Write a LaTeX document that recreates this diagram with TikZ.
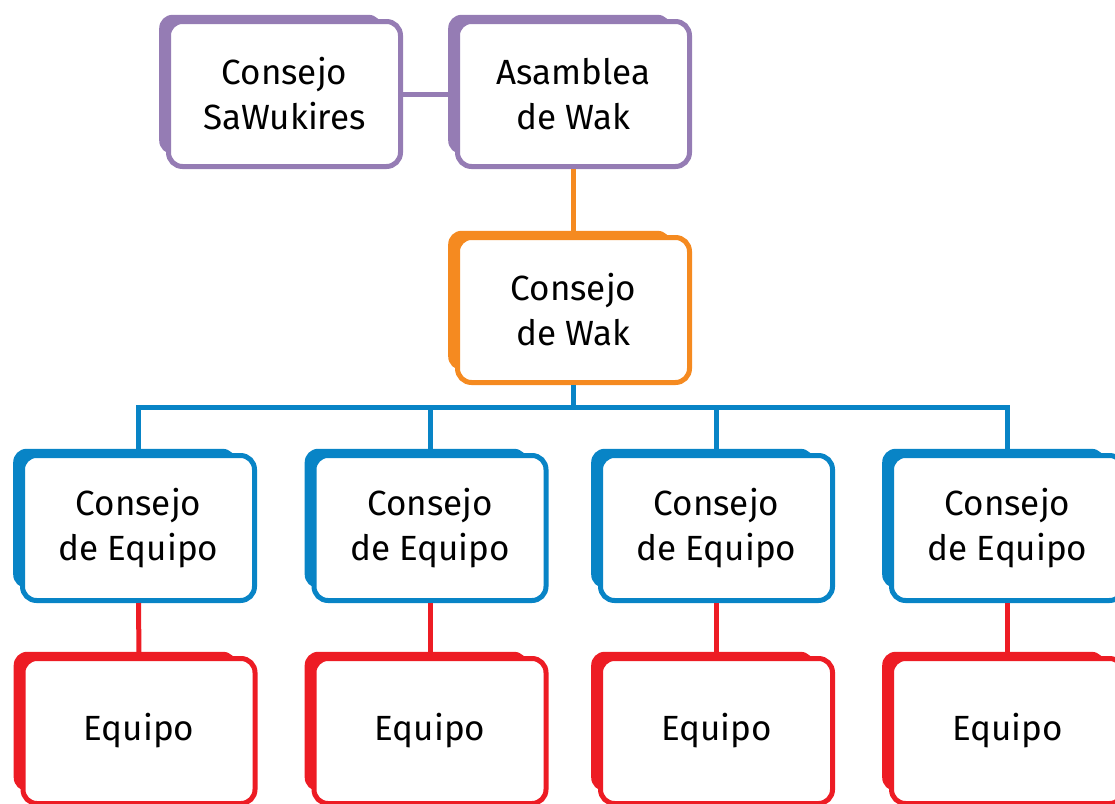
\documentclass[tikz,border=0pt]{standalone}
\usepackage{fontspec}
\setmainfont{Fira Sans}
\usetikzlibrary{shadows}
\definecolor{lila}{RGB}{149,124,180}
\definecolor{naranja}{RGB}{245,138,32}
\definecolor{azul}{RGB}{8,132,198}
\definecolor{rojo}{RGB}{237,28,36}
\tikzset{
    caja/.style={draw=#1, fill=white, line width=5pt, rounded corners=14pt,
        minimum width=232pt, minimum height=145pt, align=center,
        font=\fontsize{35}{45}\selectfont,
        general shadow={fill=#1, shadow xshift=-14.5pt, shadow yshift=10pt,
            shadow scale=0.96}},
    enlace/.style={draw=#1, line width=5pt}
}
\begin{document}
\begin{tikzpicture}[x=1pt,y=1pt]
    \useasboundingbox (0,0) rectangle (1115,-803);
    \node[caja=lila] (sa) at (284.5,-94) {Consejo\\SaWukires};
    \node[caja=lila] (as) at (573.5,-94) {Asamblea\\de Wak};
    \node[caja=naranja] (wak) at (573.5,-310) {Consejo\\de Wak};
    \node[caja=azul] (ce1) at (138.5,-528) {Consejo\\de Equipo};
    \node[caja=azul] (ce2) at (430,-528) {Consejo\\de Equipo};
    \node[caja=azul] (ce3) at (716.5,-528) {Consejo\\de Equipo};
    \node[caja=azul] (ce4) at (1007.5,-528) {Consejo\\de Equipo};
    \node[caja=rojo] (eq1) at (139,-731) {Equipo};
    \node[caja=rojo] (eq2) at (430,-731) {Equipo};
    \node[caja=rojo] (eq3) at (716.5,-731) {Equipo};
    \node[caja=rojo] (eq4) at (1007.5,-731) {Equipo};
    \coordinate (bus) at (0,-407);
    \draw[enlace=lila] (sa.east) -- (as.west);
    \draw[enlace=naranja] (as.south) -- (wak.north);
    \draw[enlace=azul] (wak.south) -- (wak.south |- bus);
    \draw[enlace=azul] (ce1.north) -- (ce1.north |- bus) -- (ce4.north |- bus) -- (ce4.north);
    \draw[enlace=azul] (ce2.north) -- (ce2.north |- bus);
    \draw[enlace=azul] (ce3.north) -- (ce3.north |- bus);
    \draw[enlace=rojo] (ce1.south) -- (eq1.north);
    \draw[enlace=rojo] (ce2.south) -- (eq2.north);
    \draw[enlace=rojo] (ce3.south) -- (eq3.north);
    \draw[enlace=rojo] (ce4.south) -- (eq4.north);
\end{tikzpicture}
\end{document}
